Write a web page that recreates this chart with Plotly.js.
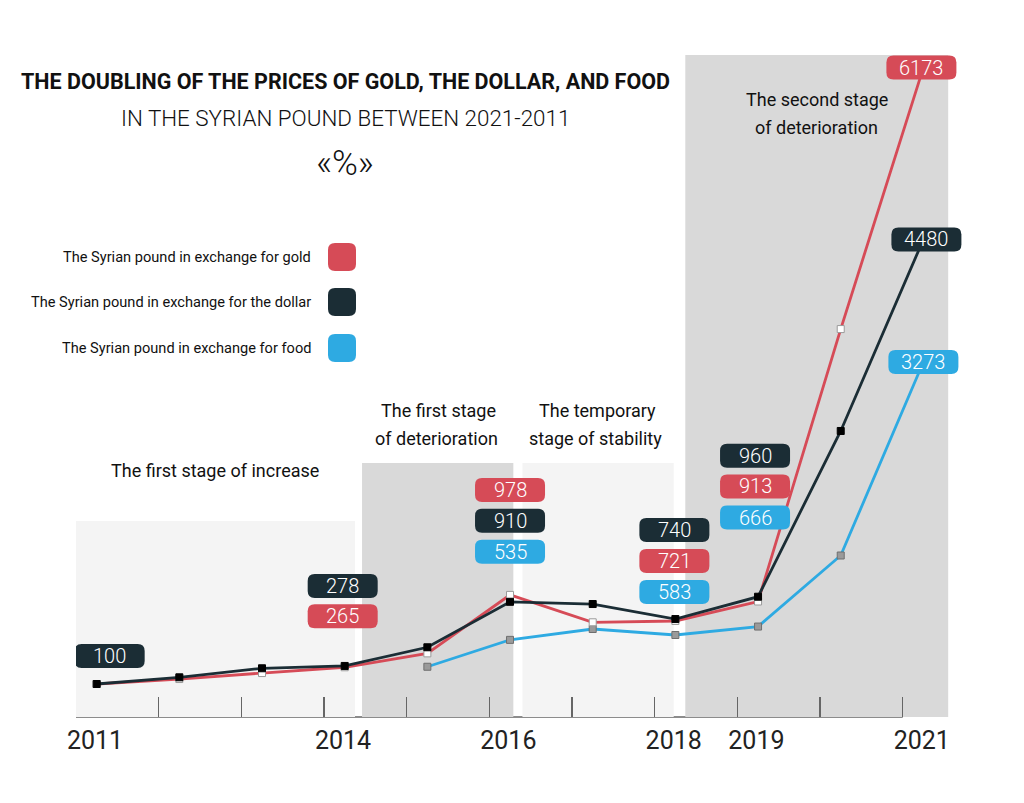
<!DOCTYPE html>
<html>
<head>
<meta charset="utf-8">
<script src="https://cdn.plot.ly/plotly-3.0.1.min.js"></script>
<style>html,body{margin:0;padding:0;background:#fff;}#chart{width:1024px;height:803px;}</style>
</head>
<body>
<div id="chart"></div>
<script>
// ---------- DATA ----------
const years = [2011, 2012, 2013, 2014, 2015, 2016, 2017, 2018, 2019, 2020, 2021];
const goldValues = [100, 149, 208, 265, 402, 978, 708, 721, 913, 3597, 6173];
const dollarValues = [100, 166, 255, 278, 462, 910, 888, 740, 960, 2593, 4480];
const foodValues = [null, null, null, null, 270, 535, 642, 583, 666, 1366, 3273];
const tickLabelYears = [2011, 2014, 2016, 2018, 2019, 2021];
const seriesNames = [
  'The Syrian pound in exchange for gold',
  'The Syrian pound in exchange for the dollar',
  'The Syrian pound in exchange for food'
];
const stageTexts = [
  ['The first stage of increase'],
  ['The first stage', 'of deterioration'],
  ['The temporary', 'stage of stability'],
  ['The second stage', 'of deterioration']
];
const titleText = 'THE DOUBLING OF THE PRICES OF GOLD, THE DOLLAR, AND FOOD';
const subtitleText = 'IN THE SYRIAN POUND BETWEEN 2021-2011';
const unitText = '«%»';

// ---------- STYLE / LAYOUT ----------
const COLORS = {gold: '#d64b57', dollar: '#1b2d35', food: '#2eaae2'};
const W = 1024, H = 803, ML = 76, MR = 51, MT = 20, MB = 86;
const PW = W - ML - MR, PH = H - MT - MB;
const XR = [2010.75, 2021.6], YR = [-225, 6642];
const FONT = 'Roboto, "Open Sans", sans-serif';
function px(x) { return (x - ML) / PW; }
function py(y) { return (H - MB - y) / PH; }

// labels: series, year, pixel offset (dx right, dy up)
const labelSpecs = [
  ['dollar', 2011, 13, 28],
  ['dollar', 2014, -2, 80],
  ['gold', 2014, -2, 51],
  ['gold', 2016, 0, 105],
  ['dollar', 2016, 0, 81],
  ['food', 2016, 0, 88],
  ['dollar', 2018, -1, 89],
  ['gold', 2018, -1, 60],
  ['food', 2018, -1, 43],
  ['dollar', 2019, -3, 141],
  ['gold', 2019, -3, 115],
  ['food', 2019, -3, 109],
  ['gold', 2021, -2, 0],
  ['dollar', 2021, 3, 0],
  ['food', 2021, 0, 0]
];
const seriesData = {gold: goldValues, dollar: dollarValues, food: foodValues};

function roundRect(cx, cy, w, h, r) {
  const l = cx - w / 2, rt = cx + w / 2, b = cy - h / 2, t = cy + h / 2;
  return `M${l + r},${b} L${rt - r},${b} Q${rt},${b} ${rt},${b + r} L${rt},${t - r} Q${rt},${t} ${rt - r},${t} ` +
         `L${l + r},${t} Q${l},${t} ${l},${t - r} L${l},${b + r} Q${l},${b} ${l + r},${b} Z`;
}

// ---------- TRACES ----------
const traces = [
  {x: years, y: foodValues, mode: 'lines+markers', name: seriesNames[2],
   line: {color: COLORS.food, width: 2.8},
   marker: {symbol: 'square', size: 7, color: '#9a9a9a', line: {color: '#6f6f6f', width: 1}}},
  {x: years, y: goldValues, mode: 'lines+markers', name: seriesNames[0],
   line: {color: COLORS.gold, width: 2.8},
   marker: {symbol: 'square', size: 7, color: '#ffffff', line: {color: '#9a9a9a', width: 1}}},
  {x: years, y: dollarValues, mode: 'lines+markers', name: seriesNames[1],
   line: {color: COLORS.dollar, width: 2.8},
   marker: {symbol: 'square', size: 7, color: '#000000', line: {color: '#000000', width: 1}}}
];

// ---------- SHAPES ----------
const shapes = [
  {type: 'rect', layer: 'below', xref: 'x', yref: 'y', x0: 2010.75, x1: 2014.125, y0: YR[0], y1: 1706, fillcolor: '#f4f4f4', line: {width: 0}},
  {type: 'rect', layer: 'below', xref: 'x', yref: 'y', x0: 2014.21, x1: 2016.04, y0: YR[0], y1: 2278, fillcolor: '#d9d9d9', line: {width: 0}},
  {type: 'rect', layer: 'below', xref: 'x', yref: 'y', x0: 2016.15, x1: 2017.98, y0: YR[0], y1: 2278, fillcolor: '#f4f4f4', line: {width: 0}},
  {type: 'rect', layer: 'below', xref: 'x', yref: 'y', x0: 2018.12, x1: 2021.3, y0: YR[0], y1: 6297, fillcolor: '#d9d9d9', line: {width: 0}},
  {type: 'line', layer: 'below', xref: 'x', yref: 'paper', x0: 2010.75, x1: 2020.75, y0: 0, y1: 0, line: {color: '#666666', width: 1.5}}
];
const annotations = [];

labelSpecs.forEach(([key, yr, dx, dy]) => {
  const i = years.indexOf(yr);
  const v = seriesData[key][i];
  shapes.push({type: 'path', layer: 'above', xref: 'x', yref: 'y', xsizemode: 'pixel', ysizemode: 'pixel',
    xanchor: yr, yanchor: v, path: roundRect(dx, dy, 70, 24, 7), fillcolor: COLORS[key], line: {width: 0}});
  annotations.push({xref: 'x', yref: 'y', x: yr, y: v, xshift: dx, yshift: dy, text: String(v), showarrow: false,
    xanchor: 'center', yanchor: 'middle', font: {family: FONT, size: 20, weight: 300, color: '#ffffff'}});
});

// legend
const legendKeys = ['gold', 'dollar', 'food'];
const legendY = [257, 302, 348];
legendKeys.forEach((k, i) => {
  shapes.push({type: 'path', layer: 'above', xref: 'paper', yref: 'paper', xsizemode: 'pixel', ysizemode: 'pixel',
    xanchor: px(342), yanchor: py(legendY[i]), path: roundRect(0, 0, 28, 28, 7), fillcolor: COLORS[k], line: {width: 0}});
  annotations.push({xref: 'paper', yref: 'paper', x: px(313), y: py(legendY[i]), text: seriesNames[i], showarrow: false,
    xanchor: 'right', yanchor: 'middle', font: {family: FONT, size: 14.6, color: '#111'}});
});

// titles
annotations.push({xref: 'paper', yref: 'paper', x: px(345), y: py(81), text: titleText, showarrow: false,
  xanchor: 'center', yanchor: 'middle', font: {family: FONT, size: 21.5, weight: 700, color: '#111'}});
annotations.push({xref: 'paper', yref: 'paper', x: px(345), y: py(118), text: subtitleText, showarrow: false,
  xanchor: 'center', yanchor: 'middle', font: {family: FONT, size: 22.4, weight: 300, color: '#111'}});
annotations.push({xref: 'paper', yref: 'paper', x: px(345), y: py(163), text: unitText, showarrow: false,
  xanchor: 'center', yanchor: 'middle', font: {family: FONT, size: 35, weight: 300, color: '#111'}});

// stage texts
const stagePos = [[[215, 471]], [[438, 410], [436, 439]], [[597, 410], [595, 439]], [[817, 100], [816, 127]]];
stageTexts.forEach((lines, s) => {
  lines.forEach((t, j) => {
    annotations.push({xref: 'paper', yref: 'paper', x: px(stagePos[s][j][0]), y: py(stagePos[s][j][1]), text: t,
      showarrow: false, xanchor: 'center', yanchor: 'middle', font: {family: FONT, size: 18, color: '#111'}});
  });
});

// ---------- LAYOUT ----------
const layout = {
  width: W, height: H,
  margin: {l: ML, r: MR, t: MT, b: MB, pad: 0},
  paper_bgcolor: '#ffffff', plot_bgcolor: 'rgba(0,0,0,0)',
  showlegend: false,
  font: {family: FONT, color: '#111'},
  xaxis: {
    range: XR, fixedrange: true, showgrid: false, zeroline: false, showline: false,
    tickmode: 'array',
    tickvals: years.map(y => y - 0.25),
    ticktext: years.map(y => tickLabelYears.includes(y) ? String(y) : ''),
    ticks: 'inside', ticklen: 20, tickwidth: 1.5, tickcolor: '#666666',
    ticklabelshift: 19, ticklabelstandoff: 6,
    tickfont: {family: FONT, size: 25, color: '#222'}
  },
  yaxis: {range: YR, visible: false, fixedrange: true, showgrid: false, zeroline: false},
  shapes: shapes,
  annotations: annotations
};

Plotly.newPlot('chart', traces, layout, {displayModeBar: false, staticPlot: true});
</script>
</body>
</html>
